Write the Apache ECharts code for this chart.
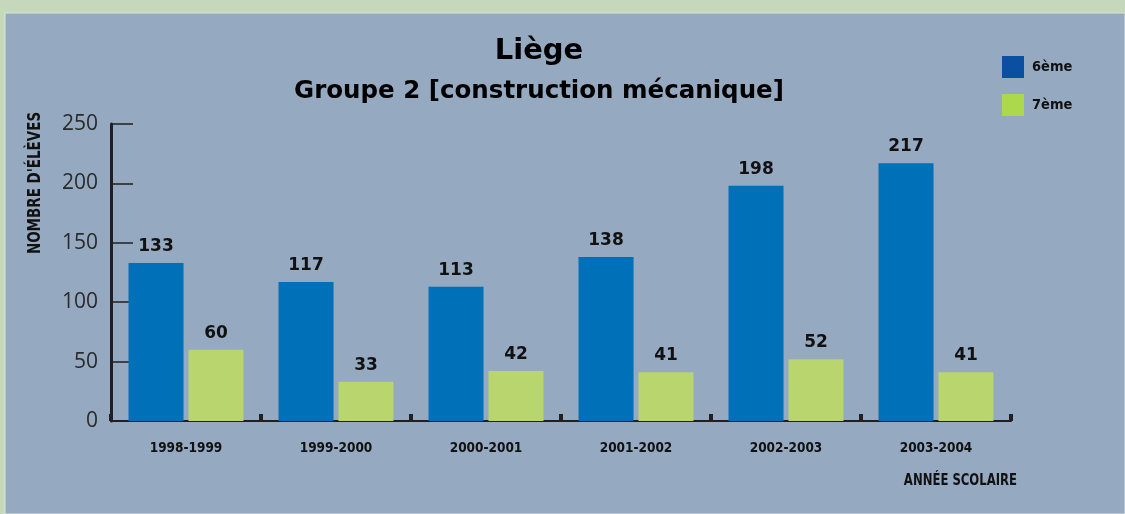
<!DOCTYPE html>
<html>
<head>
<meta charset="utf-8">
<script src="https://cdn.jsdelivr.net/npm/echarts@6/dist/echarts.min.js"></script>
<style>
  html, body { margin: 0; padding: 0; background: #c6d8bc; }
  #chart { width: 1125px; height: 514px; }
</style>
</head>
<body>
<div id="chart"></div>
<script>
  // données
  var annees = ['1998-1999', '1999-2000', '2000-2001', '2001-2002', '2002-2003', '2003-2004'];
  var sixieme = [133, 117, 113, 138, 198, 217];
  var septieme = [60, 33, 42, 41, 52, 41];
  var yTicks = [0, 50, 100, 150, 200, 250];

  var narrow = "'DejaVu Sans Condensed', sans-serif";
  var chart = echarts.init(document.getElementById('chart'));

  var labelStyle = {
    show: true,
    position: 'top',
    distance: 8,
    color: '#111',
    fontFamily: 'DejaVu Sans',
    fontWeight: 'bold',
    fontSize: 17
  };

  var option = {
    animation: false,
    backgroundColor: '#c6d8bc',
    graphic: [
      {
        type: 'rect',
        z: -10,
        shape: { x: 5, y: 13, width: 1120, height: 501 },
        style: { fill: '#95a9c1', stroke: '#dbe6d6', lineWidth: 1 }
      },
      {
        type: 'text',
        x: 36, y: 183,
        rotation: Math.PI / 2,
        scaleX: 0.88,
        style: {
          text: "NOMBRE D'ÉLÈVES",
          fill: '#111',
          font: 'bold 17px ' + narrow,
          align: 'center',
          verticalAlign: 'middle'
        }
      },
      {
        type: 'text',
        x: 1017, y: 481,
        scaleX: 0.81,
        style: {
          text: 'ANNÉE SCOLAIRE',
          fill: '#111',
          font: 'bold 16px ' + narrow,
          align: 'right',
          verticalAlign: 'middle'
        }
      }
    ],
    title: [
      {
        text: 'Liège',
        left: 534,
        top: 32,
        textAlign: 'center',
        textStyle: { fontFamily: 'DejaVu Sans', fontWeight: 'bold', fontSize: 29, color: '#000' }
      },
      {
        text: 'Groupe 2 [construction mécanique]',
        left: 534,
        top: 74,
        textAlign: 'center',
        textStyle: { fontFamily: 'DejaVu Sans', fontWeight: 'bold', fontSize: 24.5, color: '#000' }
      }
    ],
    legend: {
      orient: 'vertical',
      left: 1002,
      top: 56,
      padding: 0,
      itemWidth: 22,
      itemHeight: 22,
      itemGap: 16,
      icon: 'rect',
      textStyle: { fontFamily: narrow, fontWeight: 'bold', fontSize: 14.5, color: '#111', padding: [0, 0, 0, 3] },
      data: [
        { name: '6ème', itemStyle: { color: '#0a4fa0' } },
        { name: '7ème', itemStyle: { color: '#acd84c' } }
      ]
    },
    grid: { left: 111, right: 114, top: 124, bottom: 93, containLabel: false },
    xAxis: {
      type: 'category',
      data: annees,
      axisLine: { show: true, lineStyle: { color: '#231f20', width: 2 } },
      axisTick: { show: true, inside: true, length: 7, lineStyle: { color: '#231f20', width: 4 } },
      axisLabel: { color: '#111', fontFamily: narrow, fontWeight: 'bold', fontSize: 13.5, margin: 20 },
      z: 1
    },
    yAxis: {
      type: 'value',
      min: yTicks[0],
      max: yTicks[yTicks.length - 1],
      interval: 50,
      axisLine: { show: true, lineStyle: { color: '#231f20', width: 3 } },
      axisTick: { show: true, inside: true, length: 22, lineStyle: { color: '#231f20', width: 1.5 } },
      axisLabel: { color: '#2a2a2a', fontFamily: 'Open Sans', fontSize: 21, margin: 13 },
      splitLine: { show: false }
    },
    series: [
      {
        name: '6ème',
        type: 'bar',
        data: sixieme,
        barWidth: 55,
        barGap: '9%',
        itemStyle: { color: '#0070b8' },
        label: labelStyle,
        z: 3
      },
      {
        name: '7ème',
        type: 'bar',
        data: septieme,
        barWidth: 55,
        itemStyle: { color: '#b8d56e' },
        label: labelStyle,
        z: 3
      }
    ]
  };

  chart.setOption(option);
</script>
</body>
</html>
